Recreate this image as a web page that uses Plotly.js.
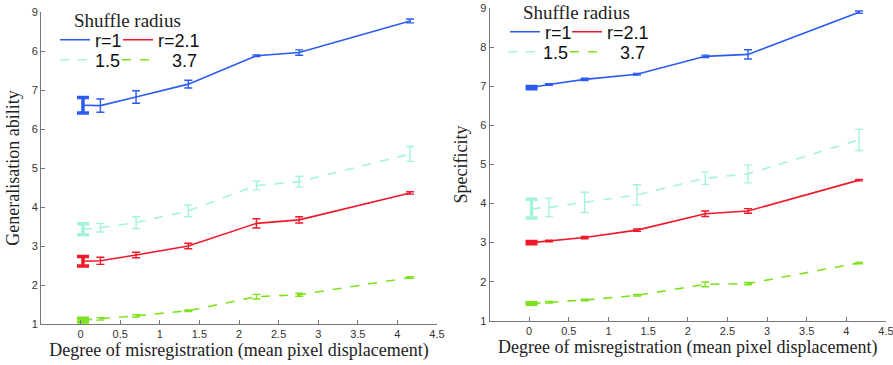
<!DOCTYPE html>
<html>
<head>
<meta charset="utf-8">
<script src="https://cdn.plot.ly/plotly-3.0.1.min.js"></script>
<style>html,body{margin:0;padding:0;background:#fff;}#chart{width:893px;height:365px;}</style>
</head>
<body>
<div id="chart"></div>
<script>
// ---- data ----
var misregistration = [0.03, 0.25, 0.70, 1.36, 2.22, 2.76, 4.16];
var seriesNames = ['r=1', 'r=2.1', '1.5', '3.7'];

// Generalisation ability (left)
var genR1 = [6.61, 6.60, 6.82, 7.15, 7.88, 7.96, 8.77];
var genR1Err = [0.20, 0.17, 0.16, 0.10, 0.02, 0.07, 0.05];
var genR15 = [3.43, 3.47, 3.60, 3.90, 4.55, 4.65, 5.36];
var genR15Err = [0.14, 0.11, 0.15, 0.15, 0.11, 0.14, 0.19];
var genR21 = [2.61, 2.62, 2.77, 3.00, 3.58, 3.67, 4.36];
var genR21Err = [0.12, 0.09, 0.07, 0.07, 0.12, 0.08, 0.03];
var genR37 = [1.10, 1.13, 1.21, 1.34, 1.70, 1.75, 2.19];
var genR37Err = [0.05, 0.03, 0.03, 0.02, 0.06, 0.04, 0.02];

// Specificity (right)
var specR1 = [6.97, 7.05, 7.18, 7.31, 7.77, 7.82, 8.90];
var specR1Err = [0.03, 0.02, 0.03, 0.02, 0.03, 0.12, 0.03];
var specR15 = [3.87, 3.90, 4.03, 4.22, 4.65, 4.76, 5.63];
var specR15Err = [0.24, 0.24, 0.26, 0.26, 0.16, 0.23, 0.27];
var specR21 = [3.00, 3.04, 3.13, 3.32, 3.74, 3.81, 4.60];
var specR21Err = [0.03, 0.02, 0.03, 0.03, 0.07, 0.06, 0.02];
var specR37 = [1.44, 1.47, 1.53, 1.65, 1.93, 1.95, 2.48];
var specR37Err = [0.02, 0.02, 0.02, 0.02, 0.06, 0.03, 0.02];

var xTickVals = [0, 0.5, 1, 1.5, 2, 2.5, 3, 3.5, 4, 4.5];
var xTickText = ['0', '0.5', '1', '1.5', '2', '2.5', '3', '3.5', '4', '4.5'];
var yTickVals = [1, 2, 3, 4, 5, 6, 7, 8, 9];
var leftYTickText = ['1', '2', '3', '4', '5', '6', '7', '6', '9'];
var rightYTickText = ['1', '2', '3', '4', '5', '6', '7', '8', '9'];

var legendTitle = 'Shuffle radius';
var xTitle = 'Degree of misregistration (mean pixel displacement)';
var leftYTitle = 'Generalisation ability';
var rightYTitle = 'Specificity';

// ---- styles ----
var colors = {'r=1': '#2b5cf2', 'r=2.1': '#f0182a', '1.5': '#a4f5d6', '3.7': '#7de21e'};
var dashes = {'r=1': 'solid', 'r=2.1': 'solid', '1.5': 'dash', '3.7': 'dash'};
var displayNames = {'r=1': 'r=1', 'r=2.1': 'r=2.1', '1.5': '1.5', '3.7': '\u00a0\u00a0\u00a03.7'};
var serifFamily = 'Liberation Serif';
var sansFamily = 'Liberation Sans';

var W = 893, H = 365;
function px(x) { return x / W; }
function py(y) { return 1 - y / H; }

var panels = [
  {xa: 'x', ya: 'y', series: {'r=1': [genR1, genR1Err], 'r=2.1': [genR21, genR21Err], '1.5': [genR15, genR15Err], '3.7': [genR37, genR37Err]},
   legendPos: {'r=1': [55, 40], 'r=2.1': [118, 40], '1.5': [55, 60], '3.7': [117, 60]}, legendIds: ['legend', 'legend2', 'legend3', 'legend4']},
  {xa: 'x2', ya: 'y2', series: {'r=1': [specR1, specR1Err], 'r=2.1': [specR21, specR21Err], '1.5': [specR15, specR15Err], '3.7': [specR37, specR37Err]},
   legendPos: {'r=1': [505, 32], 'r=2.1': [567, 32], '1.5': [503, 52], '3.7': [565, 52]}, legendIds: ['legend5', 'legend6', 'legend7', 'legend8']}
];

var traces = [];
var layoutLegends = {};
panels.forEach(function (p) {
  seriesNames.forEach(function (name, i) {
    var vals = p.series[name][0], errs = p.series[name][1];
    traces.push({
      type: 'scatter', mode: 'lines', x: misregistration, y: vals, name: displayNames[name],
      xaxis: p.xa, yaxis: p.ya, legend: p.legendIds[i],
      line: {color: colors[name], width: 1.6, dash: dashes[name]},
      error_y: {type: 'data', array: errs, visible: true, color: colors[name], thickness: 1.4, width: 4},
      hoverinfo: 'x+y'
    });
    // first point drawn with a heavier error bar, as in the original figure
    traces.push({
      type: 'scatter', mode: 'lines', x: misregistration.slice(0, 1), y: vals.slice(0, 1),
      xaxis: p.xa, yaxis: p.ya, showlegend: false,
      line: {color: colors[name], width: 1.6},
      error_y: {type: 'data', array: errs.slice(0, 1), visible: true, color: colors[name], thickness: 3.5, width: 6},
      hoverinfo: 'x+y'
    });
    var pos = p.legendPos[name];
    layoutLegends[p.legendIds[i]] = {
      x: px(pos[0]), y: py(pos[1]), xanchor: 'left', yanchor: 'middle',
      bgcolor: 'rgba(0,0,0,0)', borderwidth: 0,
      font: {family: sansFamily, size: 18, color: '#111'}
    };
  });
});

var axisCommon = {
  showline: true, linecolor: '#777', linewidth: 1, ticks: 'inside', ticklen: 4, tickcolor: '#777',
  showgrid: false, zeroline: false, mirror: false, ticklabeloverflow: 'allow',
  tickfont: {family: sansFamily, size: 11, color: '#333'}
};
function ax(extra) { var o = {}; for (var k in axisCommon) o[k] = axisCommon[k]; for (var k2 in extra) o[k2] = extra[k2]; return o; }

var titleFont = {family: serifFamily, size: 18, color: '#222'};

var layout = {
  width: W, height: H, margin: {l: 0, r: 0, t: 0, b: 0},
  paper_bgcolor: '#fff', plot_bgcolor: '#fff',
  xaxis: ax({domain: [px(41), px(437)], range: [-0.5, 4.5], tickmode: 'array', tickvals: xTickVals, ticktext: xTickText, anchor: 'y',
    title: {text: xTitle, font: titleFont, standoff: 3}}),
  yaxis: ax({domain: [py(324), py(12)], range: [1, 9], tickmode: 'array', tickvals: yTickVals, ticktext: leftYTickText, anchor: 'x',
    title: {text: leftYTitle, font: titleFont, standoff: 7}}),
  xaxis2: ax({domain: [px(489.5), px(886)], range: [-0.5, 4.5], tickmode: 'array', tickvals: xTickVals, ticktext: xTickText, anchor: 'y2',
    title: {text: xTitle, font: titleFont, standoff: 3}}),
  yaxis2: ax({domain: [py(320.7), py(8.3)], range: [1, 9], tickmode: 'array', tickvals: yTickVals, ticktext: rightYTickText, anchor: 'x2',
    title: {text: rightYTitle, font: titleFont, standoff: 7}}),
  annotations: [
    {text: legendTitle, xref: 'paper', yref: 'paper', x: px(72), y: py(21), xanchor: 'left', yanchor: 'middle', showarrow: false,
     font: {family: serifFamily, size: 19, color: '#222'}},
    {text: legendTitle, xref: 'paper', yref: 'paper', x: px(521), y: py(13), xanchor: 'left', yanchor: 'middle', showarrow: false,
     font: {family: serifFamily, size: 19, color: '#222'}}
  ]
};
for (var k in layoutLegends) layout[k] = layoutLegends[k];

Plotly.newPlot('chart', traces, layout, {displayModeBar: false, staticPlot: true});
</script>
</body>
</html>
